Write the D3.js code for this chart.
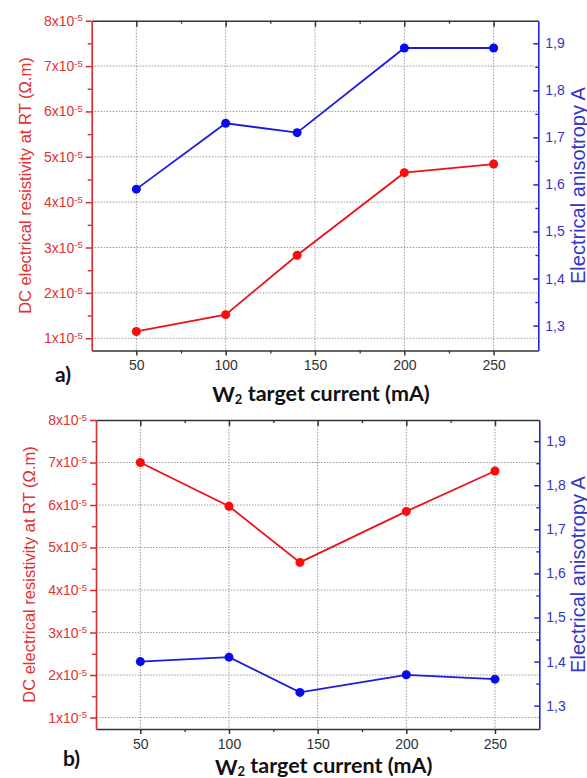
<!DOCTYPE html>
<html><head><meta charset="utf-8">
<script src="https://cdn.jsdelivr.net/npm/d3@7"></script>
<style>body{margin:0;background:#fff}svg{display:block}</style>
</head><body>
<script>
// ---- data ----
const currents = [50, 100, 140, 200, 250];
const resistivityA = [1.15e-5, 1.52e-5, 2.83e-5, 4.65e-5, 4.84e-5];
const anisotropyA = [1.59, 1.73, 1.71, 1.89, 1.89];
const resistivityB = [7.0e-5, 5.97e-5, 4.65e-5, 5.85e-5, 6.8e-5];
const anisotropyB = [1.40, 1.41, 1.33, 1.37, 1.36];
const xTicks = [50, 100, 150, 200, 250];
const xMinorTicks = [75, 125, 175, 225];
const leftTicks = [1e-5, 2e-5, 3e-5, 4e-5, 5e-5, 6e-5, 7e-5, 8e-5];
const leftTickMantissas = ["1", "2", "3", "4", "5", "6", "7", "8"];
const leftTickExponent = "-5";
const leftMinorTicks = [1.5e-5, 2.5e-5, 3.5e-5, 4.5e-5, 5.5e-5, 6.5e-5, 7.5e-5];
const rightTicks = [1.3, 1.4, 1.5, 1.6, 1.7, 1.8, 1.9];
const rightTickLabels = ["1,3", "1,4", "1,5", "1,6", "1,7", "1,8", "1,9"];
const rightMinorTicks = [1.35, 1.45, 1.55, 1.65, 1.75, 1.85];
const panelTags = ["a)", "b)"];
const xTitleMain = "W";
const xTitleSub = "2";
const xTitleRest = " target current (mA)";
const leftTitle = "DC electrical resistivity at RT (\u03A9.m)";
const rightTitle = "Electrical anisotropy A";

// ---- styles ----
const RED = "#e8141c", RED_AX = "#d92b2b", RED_TXT = "#e23232";
const BLUE = "#1c1cd8", BLUE_AX = "#2424dd", BLUE_TXT = "#3535c8";
const DARK = "#333";
const LABEL_FONT = "'Liberation Sans', Arial, sans-serif";
const BOLD_FONT = "Lato, 'Open Sans', sans-serif";

const W = 587, H = 778;
const svg = d3.select("body").append("svg").attr("width", W).attr("height", H)
  .style("background", "#fff");

const panels = [
  {tag: panelTags[0], res: resistivityA, ani: anisotropyA,
   left: 91.7, right: 538.3, top: 20.7, bottom: 350.5,
   tagX: 55, tagY: 382, xTitleY: 402, lTitleX: 25, rTitleX: 584.5},
  {tag: panelTags[1], res: resistivityB, ani: anisotropyB,
   left: 96, right: 539.3, top: 420, bottom: 729,
   tagX: 63, tagY: 766, xTitleY: 774.5, lTitleX: 29, rTitleX: 584.5}
];

function drawPanel(p) {
  const g = svg.append("g");
  const x = d3.scaleLinear().domain([25, 275]).range([p.left, p.right]);
  const yL = d3.scaleLinear().domain([0.73e-5, 8e-5]).range([p.bottom, p.top]);
  const yR = d3.scaleLinear().domain([1.247, 1.948]).range([p.bottom, p.top]);

  // gridlines
  const grid = g.append("g").attr("stroke", "#9a9a9a").attr("stroke-width", 1)
    .attr("stroke-dasharray", "1.5,1.5");
  grid.selectAll("line.v").data(xTicks).join("line").attr("class", "v")
    .attr("x1", d => x(d)).attr("x2", d => x(d)).attr("y1", p.top).attr("y2", p.bottom);
  grid.selectAll("line.h").data(leftTicks.filter(d => d < 8e-5)).join("line").attr("class", "h")
    .attr("x1", p.left).attr("x2", p.right).attr("y1", d => yL(d)).attr("y2", d => yL(d));

  // series
  const ptsR = currents.map((c, i) => [c, p.res[i]]);
  const ptsB = currents.map((c, i) => [c, p.ani[i]]);
  const lineR = d3.line().x(d => x(d[0])).y(d => yL(d[1]));
  const lineB = d3.line().x(d => x(d[0])).y(d => yR(d[1]));
  g.append("path").datum(ptsR).attr("d", lineR).attr("fill", "none")
    .attr("stroke", RED).attr("stroke-width", 1.8);
  g.append("path").datum(ptsB).attr("d", lineB).attr("fill", "none")
    .attr("stroke", BLUE).attr("stroke-width", 1.8);
  g.selectAll("circle.r").data(ptsR).join("circle").attr("class", "r")
    .attr("cx", d => x(d[0])).attr("cy", d => yL(d[1])).attr("r", 4.5).attr("fill", "#ff0a0a");
  g.selectAll("circle.b").data(ptsB).join("circle").attr("class", "b")
    .attr("cx", d => x(d[0])).attr("cy", d => yR(d[1])).attr("r", 4.5).attr("fill", "#0a0af0");

  // bottom axis
  const bx = g.append("g").attr("transform", `translate(0,${p.bottom})`)
    .call(d3.axisBottom(x).tickValues(xTicks).tickSize(5).tickPadding(5).tickSizeOuter(0));
  bx.select(".domain").attr("stroke", DARK).attr("stroke-width", 1.6);
  bx.selectAll(".tick line").attr("stroke", DARK).attr("stroke-width", 1.5);
  bx.selectAll("text").attr("fill", DARK).style("font-family", LABEL_FONT).style("font-size", "14px");
  const bxm = g.append("g").attr("transform", `translate(0,${p.bottom})`)
    .call(d3.axisBottom(x).tickValues(xMinorTicks).tickSize(3).tickFormat("").tickSizeOuter(0));
  bxm.select(".domain").remove();
  bxm.selectAll(".tick line").attr("stroke", DARK).attr("stroke-width", 1.3);

  // top axis (ticks inward)
  const tx = g.append("g").attr("transform", `translate(0,${p.top})`)
    .call(d3.axisTop(x).tickValues(xTicks).tickSize(-6).tickFormat("").tickSizeOuter(0));
  tx.select(".domain").attr("stroke", DARK).attr("stroke-width", 1.6);
  tx.selectAll(".tick line").attr("stroke", DARK).attr("stroke-width", 1.5);
  const txm = g.append("g").attr("transform", `translate(0,${p.top})`)
    .call(d3.axisTop(x).tickValues(xMinorTicks).tickSize(-3).tickFormat("").tickSizeOuter(0));
  txm.select(".domain").remove();
  txm.selectAll(".tick line").attr("stroke", DARK).attr("stroke-width", 1.3);

  // left axis
  const lx = g.append("g").attr("transform", `translate(${p.left},0)`)
    .call(d3.axisLeft(yL).tickValues(leftTicks).tickSize(6).tickPadding(3).tickSizeOuter(0)
      .tickFormat((d, i) => leftTickMantissas[i]));
  lx.select(".domain").attr("stroke", RED_AX).attr("stroke-width", 1.6);
  lx.selectAll(".tick line").attr("stroke", RED_AX).attr("stroke-width", 1.5);
  lx.selectAll(".tick text").each(function(d, i) {
    const t = d3.select(this);
    t.text(null).attr("fill", RED_TXT).style("font-family", LABEL_FONT).style("font-size", "14px");
    t.append("tspan").text(leftTickMantissas[i] + "x10");
    t.append("tspan").attr("dy", "-0.45em").style("font-size", "9.5px").text(leftTickExponent);
  });
  const lxm = g.append("g").attr("transform", `translate(${p.left},0)`)
    .call(d3.axisLeft(yL).tickValues(leftMinorTicks).tickSize(4).tickFormat("").tickSizeOuter(0));
  lxm.select(".domain").remove();
  lxm.selectAll(".tick line").attr("stroke", RED_AX).attr("stroke-width", 1.4);

  // right axis (ticks inward)
  const rx = g.append("g").attr("transform", `translate(${p.right},0)`)
    .call(d3.axisRight(yR).tickValues(rightTicks).tickSizeInner(-5).tickPadding(7).tickSizeOuter(0)
      .tickFormat((d, i) => rightTickLabels[i]));
  rx.select(".domain").attr("stroke", BLUE_AX).attr("stroke-width", 1.6);
  rx.selectAll(".tick line").attr("stroke", BLUE_AX).attr("stroke-width", 1.5);
  rx.selectAll(".tick text").attr("fill", BLUE_TXT).style("font-family", LABEL_FONT).style("font-size", "14px");
  const rxm = g.append("g").attr("transform", `translate(${p.right},0)`)
    .call(d3.axisRight(yR).tickValues(rightMinorTicks).tickSize(-3).tickFormat("").tickSizeOuter(0));
  rxm.select(".domain").remove();
  rxm.selectAll(".tick line").attr("stroke", BLUE_AX).attr("stroke-width", 1.4);

  // titles
  const cy = (p.top + p.bottom) / 2;
  g.append("text").attr("transform", `translate(${p.lTitleX},${cy}) rotate(-90)`)
    .attr("text-anchor", "middle").attr("dominant-baseline", "central")
    .attr("fill", RED_TXT).style("font-family", LABEL_FONT).style("font-size", "16.5px")
    .text(leftTitle);
  g.append("text").attr("transform", `translate(${p.rTitleX},${cy}) rotate(-90)`)
    .attr("text-anchor", "middle")
    .attr("fill", BLUE_TXT).style("font-family", LABEL_FONT).style("font-size", "20px")
    .text(rightTitle);

  const xt = g.append("text").attr("x", (p.left + p.right) / 2 + 6).attr("y", p.xTitleY)
    .attr("text-anchor", "middle").attr("fill", "#111")
    .style("font-family", BOLD_FONT).style("font-weight", "bold").style("font-size", "21.5px");
  xt.append("tspan").text(xTitleMain);
  xt.append("tspan").attr("dy", "0.15em").style("font-size", "13px").text(xTitleSub);
  xt.append("tspan").attr("dy", "-0.15em").text(xTitleRest);

  g.append("text").attr("x", p.tagX).attr("y", p.tagY).attr("fill", "#111")
    .style("font-family", BOLD_FONT).style("font-weight", "bold").style("font-size", "21px")
    .text(p.tag);
}

panels.forEach(drawPanel);
</script>
</body></html>
